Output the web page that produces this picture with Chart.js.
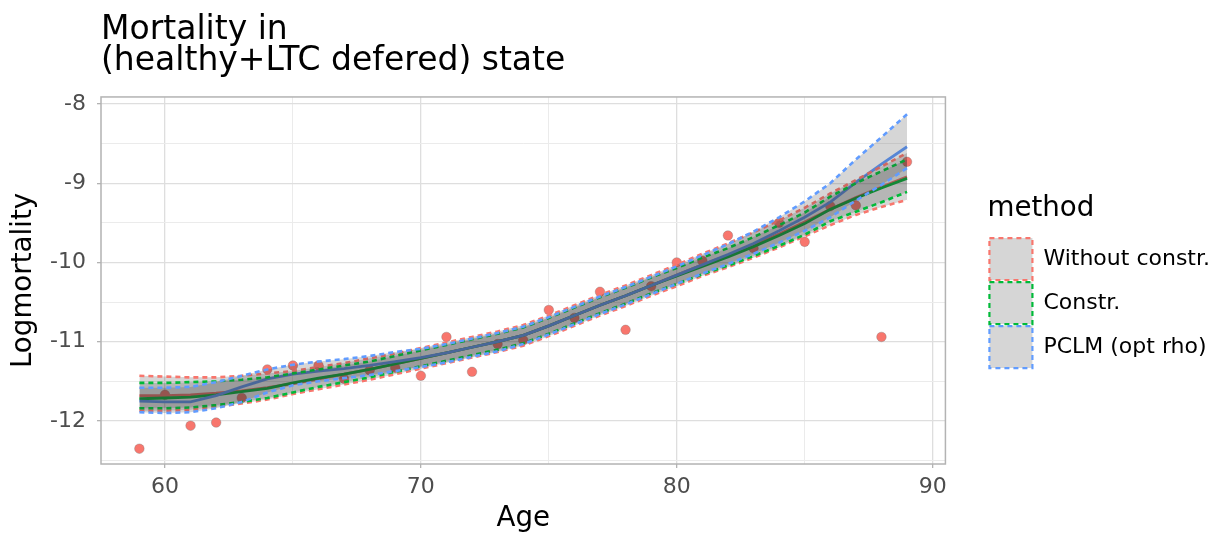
<!DOCTYPE html>
<html>
<head>
<meta charset="utf-8">
<script src="https://cdn.jsdelivr.net/npm/chart.js@4.4.1/dist/chart.umd.min.js"></script>
<style>
  html, body { margin: 0; padding: 0; background: #fff; }
</style>
</head>
<body>
<canvas id="mortalityChart" width="1225" height="539"></canvas>
<script>
// ages and observed log-mortality
const ages = [59, 60, 61, 62, 63, 64, 65, 66, 67, 68, 69, 70, 71, 72, 73, 74,
              75, 76, 77, 78, 79, 80, 81, 82, 83, 84, 85, 86, 87, 88, 89];
const observed = [-12.35, -11.67, -12.06, -12.02, -11.71, -11.35, -11.30, -11.30, -11.47, -11.36, -11.33, -11.43,
                  -10.94, -11.38, -11.03, -10.98, -10.60, -10.70, -10.37, -10.85, -10.30, -10.00, -9.98,
                  -9.66, -9.82, -9.50, -9.74, -9.29, -9.28, -10.94, -8.73];

// Without constr.
const fitWithout = [-11.68, -11.68, -11.67, -11.65, -11.62, -11.58, -11.53, -11.47, -11.41, -11.35, -11.28, -11.21,
                    -11.14, -11.07, -11.00, -10.92, -10.80, -10.67, -10.54, -10.42, -10.29, -10.16, -10.03,
                    -9.91, -9.78, -9.64, -9.49, -9.33, -9.18, -9.05, -8.92];
const upWithout = [-11.43, -11.44, -11.45, -11.45, -11.43, -11.40, -11.37, -11.32, -11.27, -11.21, -11.15, -11.08,
                   -11.01, -10.94, -10.87, -10.79, -10.67, -10.54, -10.41, -10.29, -10.16, -10.03, -9.89,
                   -9.76, -9.62, -9.47, -9.31, -9.13, -8.96, -8.79, -8.62];
const lowWithout = [-11.87, -11.87, -11.86, -11.82, -11.78, -11.73, -11.66, -11.60, -11.54, -11.48, -11.41, -11.34,
                    -11.27, -11.20, -11.13, -11.05, -10.93, -10.80, -10.67, -10.55, -10.42, -10.30, -10.17,
                    -10.06, -9.94, -9.81, -9.67, -9.53, -9.40, -9.30, -9.21];

// Constr.
const fitConstr = [-11.72, -11.71, -11.70, -11.67, -11.63, -11.59, -11.52, -11.46, -11.41, -11.35, -11.28, -11.21,
                   -11.14, -11.07, -11.00, -10.92, -10.80, -10.67, -10.54, -10.42, -10.29, -10.17, -10.05,
                   -9.93, -9.80, -9.66, -9.51, -9.33, -9.19, -9.06, -8.94];
const upConstr = [-11.52, -11.52, -11.51, -11.50, -11.48, -11.45, -11.40, -11.35, -11.30, -11.25, -11.18, -11.11,
                  -11.04, -10.97, -10.90, -10.82, -10.70, -10.57, -10.44, -10.32, -10.19, -10.07, -9.94,
                  -9.82, -9.68, -9.53, -9.37, -9.17, -9.00, -8.85, -8.70];
const lowConstr = [-11.84, -11.84, -11.83, -11.80, -11.76, -11.71, -11.64, -11.57, -11.51, -11.45, -11.38, -11.31,
                   -11.24, -11.17, -11.10, -11.02, -10.90, -10.77, -10.64, -10.52, -10.39, -10.27, -10.15,
                   -10.04, -9.92, -9.79, -9.65, -9.48, -9.36, -9.24, -9.11];

// PCLM (opt rho)
const fitPclm = [-11.75, -11.76, -11.76, -11.68, -11.57, -11.47, -11.41, -11.37, -11.34, -11.30, -11.25, -11.20,
                 -11.14, -11.07, -11.00, -10.92, -10.80, -10.67, -10.54, -10.42, -10.29, -10.16, -10.03,
                 -9.90, -9.76, -9.60, -9.43, -9.24, -8.99, -8.76, -8.54];
const upPclm = [-11.58, -11.58, -11.57, -11.51, -11.43, -11.35, -11.29, -11.25, -11.22, -11.18, -11.13, -11.09,
                -11.03, -10.96, -10.89, -10.81, -10.69, -10.56, -10.43, -10.31, -10.18, -10.05, -9.91,
                -9.77, -9.61, -9.43, -9.23, -9.00, -8.70, -8.42, -8.13];
const lowPclm = [-11.89, -11.90, -11.89, -11.84, -11.76, -11.64, -11.55, -11.50, -11.46, -11.42, -11.37, -11.32,
                 -11.26, -11.19, -11.12, -11.03, -10.91, -10.78, -10.65, -10.53, -10.40, -10.27, -10.14,
                 -10.02, -9.89, -9.75, -9.60, -9.43, -9.22, -9.02, -8.81];

const methods = ['Without constr.', 'Constr.', 'PCLM (opt rho)'];
const xTicks = [60, 65, 70, 75, 80, 85, 90];
const yTicks = [-12.5, -12, -11.5, -11, -10.5, -10, -9.5, -9, -8.5, -8];

const methodColors = ['#F8766D', '#00BA38', '#619CFF'];
const ribbonFill = 'rgba(51, 51, 51, 0.2)';
const fits = [fitWithout, fitConstr, fitPclm];
const ups = [upWithout, upConstr, upPclm];
const lows = [lowWithout, lowConstr, lowPclm];

Chart.defaults.font.family = "'DejaVu Sans', sans-serif";

const toXY = vals => ages.map((a, i) => ({ x: a, y: vals[i] }));

const datasets = [];
// ribbons: last method drawn on top
for (let m = 2; m >= 0; m--) {
    datasets.push({
        label: methods[m] + ' upper',
        data: toXY(ups[m]),
        borderColor: methodColors[m],
        borderDash: [5, 4],
        borderWidth: 2.6,
        pointRadius: 0,
        fill: false,
        order: 2 - m
    });
    datasets.push({
        label: methods[m] + ' lower',
        data: toXY(lows[m]),
        borderColor: methodColors[m],
        borderDash: [5, 4],
        borderWidth: 2.6,
        pointRadius: 0,
        fill: '-1',
        backgroundColor: ribbonFill,
        order: 2 - m
    });
}
// fitted lines under the ribbons
for (let m = 2; m >= 0; m--) {
    datasets.push({
        label: methods[m],
        data: toXY(fits[m]),
        borderColor: methodColors[m],
        borderWidth: 2.8,
        pointRadius: 0,
        fill: false,
        order: 5 - m
    });
}
// observed points at the bottom
datasets.push({
    label: 'observed',
    data: toXY(observed),
    showLine: false,
    pointRadius: 4.8,
    pointBackgroundColor: '#F8766D',
    pointBorderColor: 'rgba(110, 110, 110, 0.55)',
    pointBorderWidth: 0.6,
    order: 6
});

// grey border around the panel
const panelBorder = {
    id: 'panelBorder',
    afterDatasetsDraw(chart) {
        const { ctx, chartArea: a } = chart;
        ctx.save();
        ctx.strokeStyle = '#b3b3b3';
        ctx.lineWidth = 1.5;
        ctx.strokeRect(a.left, a.top, a.right - a.left, a.bottom - a.top);
        ctx.restore();
    }
};

const isMajorX = v => v % 10 === 0;
const isMajorY = v => Number.isInteger(v);

const ctx = document.getElementById('mortalityChart').getContext('2d');
new Chart(ctx, {
    type: 'line',
    data: { datasets: datasets },
    options: {
        responsive: false,
        animation: false,
        layout: { padding: { top: 0, right: 5, bottom: 0, left: 0 } },
        plugins: {
            tooltip: { enabled: false },
            title: {
                display: true,
                text: ['Mortality in', '(healthy+LTC defered) state'],
                align: 'start',
                fullSize: false,
                color: '#000',
                font: { size: 33, weight: 'normal', lineHeight: 0.96 },
                padding: { top: 14.3, bottom: 19.3 }
            },
            legend: {
                position: 'right',
                fullSize: false,
                align: 'center',
                maxWidth: 320,
                onClick: () => {},
                title: {
                    display: true,
                    text: 'method',
                    position: 'start',
                    color: '#000',
                    font: { size: 27.7 },
                    padding: { top: 4, bottom: 8 }
                },
                labels: {
                    boxWidth: 43,
                    boxHeight: 42,
                    padding: 2,
                    color: '#000',
                    font: { size: 22 },
                    generateLabels: () => methods.map((m, i) => ({
                        text: m,
                        fillStyle: '#d6d6d6',
                        strokeStyle: methodColors[i],
                        lineWidth: 2.2,
                        lineDash: [5, 4],
                        hidden: false,
                        datasetIndex: (2 - i) * 2
                    }))
                }
            }
        },
        scales: {
            x: {
                type: 'linear',
                min: 57.5,
                max: 90.5,
                afterBuildTicks: axis => { axis.ticks = xTicks.map(v => ({ value: v })); },
                afterFit: axis => { axis.height = 75; },
                border: { display: false },
                grid: {
                    color: c => isMajorX(c.tick.value) ? '#dedede' : '#ebebeb',
                    lineWidth: c => isMajorX(c.tick.value) ? 1.3 : 1,
                    tickColor: c => isMajorX(c.tick.value) ? '#b3b3b3' : 'rgba(0,0,0,0)',
                    tickLength: 4,
                    tickWidth: 1.3
                },
                ticks: {
                    autoSkip: false,
                    maxRotation: 0,
                    padding: 6.2,
                    color: '#4d4d4d',
                    font: { size: 22 },
                    callback: v => isMajorX(v) ? String(v) : ''
                },
                title: {
                    display: true,
                    text: 'Age',
                    color: '#000',
                    font: { size: 27.7 },
                    padding: { top: 0, bottom: 4 }
                }
            },
            y: {
                type: 'linear',
                min: -12.543,
                max: -7.912,
                afterBuildTicks: axis => { axis.ticks = yTicks.map(v => ({ value: v })); },
                afterFit: axis => { axis.width = 101; },
                border: { display: false },
                grid: {
                    color: c => isMajorY(c.tick.value) ? '#dedede' : '#ebebeb',
                    lineWidth: c => isMajorY(c.tick.value) ? 1.3 : 1,
                    tickColor: c => isMajorY(c.tick.value) ? '#b3b3b3' : 'rgba(0,0,0,0)',
                    tickLength: 4,
                    tickWidth: 1.3
                },
                ticks: {
                    autoSkip: false,
                    padding: 11,
                    color: '#4d4d4d',
                    font: { size: 22 },
                    callback: v => isMajorY(v) ? String(v) : ''
                },
                title: {
                    display: true,
                    text: 'Logmortality',
                    color: '#000',
                    font: { size: 27.7 },
                    padding: { top: 7.3, bottom: 0 }
                }
            },
            // empty spacer between panel and legend
            spacer: {
                type: 'linear',
                position: 'right',
                display: true,
                afterFit: axis => { axis.width = 42; },
                border: { display: false },
                grid: { display: false, drawTicks: false },
                ticks: { display: false }
            }
        }
    },
    plugins: [panelBorder]
});
</script>
</body>
</html>
